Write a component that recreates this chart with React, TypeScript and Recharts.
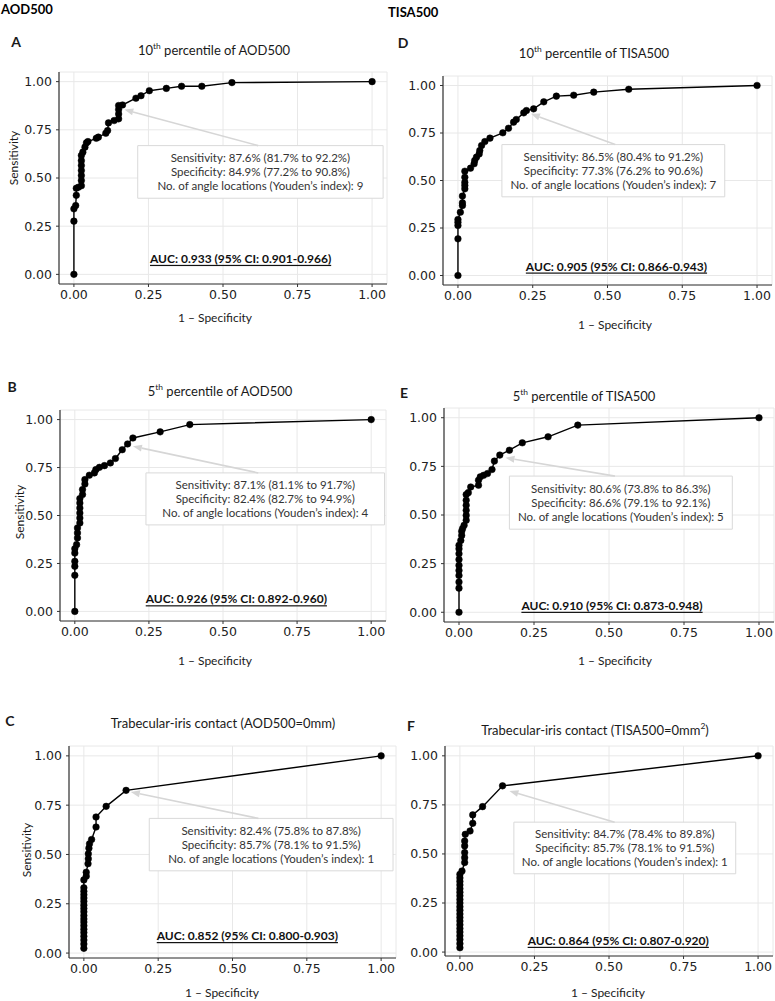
import React from 'react';
import {
  ComposedChart,
  Line,
  XAxis,
  YAxis,
  CartesianGrid,
  ReferenceArea,
  ReferenceLine,
  ReferenceDot,
} from 'recharts';

// ROC points: [1 - specificity, sensitivity]
const rocA: [number, number][] = [
  [0, 0], [0, 0.276], [0, 0.34], [0.006, 0.357], [0.008, 0.41], [0.008, 0.447], [0.015, 0.452],
  [0.025, 0.46], [0.025, 0.487], [0.025, 0.513], [0.025, 0.539], [0.025, 0.565], [0.025, 0.59],
  [0.025, 0.617], [0.03, 0.634], [0.037, 0.66], [0.042, 0.682], [0.047, 0.689], [0.075, 0.706],
  [0.082, 0.712], [0.107, 0.732], [0.113, 0.746], [0.116, 0.786], [0.135, 0.798], [0.15, 0.807],
  [0.15, 0.832], [0.15, 0.855], [0.15, 0.876], [0.163, 0.879], [0.208, 0.914], [0.225, 0.927],
  [0.253, 0.953], [0.31, 0.965], [0.361, 0.976], [0.429, 0.976], [0.53, 0.995], [1, 1],
];

const rocB: [number, number][] = [
  [0, 0], [0, 0.188], [0, 0.235], [0, 0.261], [0, 0.304], [0, 0.327], [0.006, 0.348],
  [0.009, 0.383], [0.009, 0.409], [0.009, 0.435], [0.017, 0.461], [0.017, 0.487], [0.017, 0.513],
  [0.017, 0.539], [0.017, 0.565], [0.017, 0.588], [0.026, 0.609], [0.026, 0.635], [0.034, 0.664],
  [0.034, 0.687], [0.049, 0.71], [0.066, 0.722], [0.071, 0.739], [0.083, 0.751], [0.1, 0.76],
  [0.12, 0.774], [0.137, 0.797], [0.16, 0.843], [0.178, 0.873], [0.196, 0.904], [0.288, 0.936],
  [0.388, 0.974], [1, 1],
];

const rocC: [number, number][] = [
  [0, 0.024], [0, 0.046], [0, 0.066], [0, 0.085], [0, 0.104], [0, 0.121], [0, 0.139], [0, 0.157],
  [0, 0.173], [0, 0.19], [0, 0.209], [0, 0.226], [0, 0.243], [0, 0.262], [0, 0.279], [0, 0.296],
  [0, 0.313], [0, 0.331], [0, 0.371], [0.008, 0.39], [0.008, 0.41], [0.014, 0.453], [0.015, 0.478],
  [0.015, 0.503], [0.017, 0.532], [0.019, 0.554], [0.026, 0.576], [0.041, 0.639], [0.041, 0.69],
  [0.075, 0.744], [0.142, 0.825], [1, 1],
];

const rocD: [number, number][] = [
  [0, 0], [0, 0.193], [0, 0.263], [0, 0.28], [0, 0.295], [0.008, 0.333], [0.015, 0.368],
  [0.015, 0.382], [0.015, 0.418], [0.023, 0.456], [0.023, 0.474], [0.023, 0.49], [0.023, 0.517],
  [0.023, 0.549], [0.042, 0.565], [0.054, 0.588], [0.056, 0.605], [0.062, 0.623], [0.071, 0.64],
  [0.073, 0.658], [0.079, 0.684], [0.09, 0.705], [0.107, 0.723], [0.15, 0.751], [0.169, 0.775],
  [0.186, 0.807], [0.195, 0.821], [0.22, 0.856], [0.229, 0.868], [0.253, 0.877], [0.287, 0.914],
  [0.329, 0.944], [0.387, 0.949], [0.454, 0.965], [0.571, 0.98], [1, 1],
];

const rocE: [number, number][] = [
  [0, 0], [0, 0.124], [0, 0.155], [0, 0.189], [0, 0.215], [0, 0.241], [0, 0.271], [0, 0.301],
  [0, 0.326], [0, 0.344], [0.006, 0.369], [0.009, 0.395], [0.009, 0.416], [0.012, 0.43],
  [0.017, 0.447], [0.024, 0.473], [0.024, 0.498], [0.024, 0.524], [0.024, 0.55], [0.024, 0.576],
  [0.024, 0.605], [0.031, 0.615], [0.039, 0.644], [0.065, 0.653], [0.065, 0.679], [0.071, 0.696],
  [0.082, 0.704], [0.095, 0.713], [0.11, 0.734], [0.118, 0.777], [0.136, 0.808], [0.168, 0.833],
  [0.211, 0.871], [0.297, 0.902], [0.396, 0.962], [1, 1],
];

const rocF: [number, number][] = [
  [0, 0.022], [0, 0.043], [0, 0.064], [0, 0.083], [0, 0.102], [0, 0.12], [0, 0.139], [0, 0.158],
  [0, 0.176], [0, 0.194], [0, 0.213], [0, 0.231], [0, 0.25], [0, 0.268], [0, 0.287], [0, 0.305],
  [0, 0.323], [0, 0.342], [0, 0.36], [0, 0.378], [0, 0.396], [0.007, 0.413], [0.016, 0.456],
  [0.016, 0.481], [0.016, 0.507], [0.016, 0.541], [0.016, 0.566], [0.018, 0.6], [0.034, 0.617],
  [0.043, 0.656], [0.043, 0.699], [0.076, 0.741], [0.143, 0.847], [1, 1],
];

const ticks = [0, 0.25, 0.5, 0.75, 1];

const statsA = ['Sensitivity: 87.6% (81.7% to 92.2%)', 'Specificity: 84.9% (77.2% to 90.8%)', 'No. of angle locations (Youden\u2019s index): 9'];
const statsB = ['Sensitivity: 87.1% (81.1% to 91.7%)', 'Specificity: 82.4% (82.7% to 94.9%)', 'No. of angle locations (Youden\u2019s index): 4'];
const statsC = ['Sensitivity: 82.4% (75.8% to 87.8%)', 'Specificity: 85.7% (78.1% to 91.5%)', 'No. of angle locations (Youden\u2019s index): 1'];
const statsD = ['Sensitivity: 86.5% (80.4% to 91.2%)', 'Specificity: 77.3% (76.2% to 90.6%)', 'No. of angle locations (Youden\u2019s index): 7'];
const statsE = ['Sensitivity: 80.6% (73.8% to 86.3%)', 'Specificity: 86.6% (79.1% to 92.1%)', 'No. of angle locations (Youden\u2019s index): 5'];
const statsF = ['Sensitivity: 84.7% (78.4% to 89.8%)', 'Specificity: 85.7% (78.1% to 91.5%)', 'No. of angle locations (Youden\u2019s index): 1'];

const aucA = 'AUC: 0.933 (95% CI: 0.901-0.966)';
const aucB = 'AUC: 0.926 (95% CI: 0.892-0.960)';
const aucC = 'AUC: 0.852 (95% CI: 0.800-0.903)';
const aucD = 'AUC: 0.905 (95% CI: 0.866-0.943)';
const aucE = 'AUC: 0.910 (95% CI: 0.873-0.948)';
const aucF = 'AUC: 0.864 (95% CI: 0.807-0.920)';

const TXT = "Lato, 'Open Sans', sans-serif";
const TICK_FONT = "'DejaVu Sans', Verdana, sans-serif";

type Pt = [number, number];

interface PanelProps {
  letter: string;
  letterPos: Pt;
  title: React.ReactNode;
  titlePos: Pt;
  xLabelPos: Pt;
  yLabelPos?: Pt;
  plot: { left: number; top: number; right: number; bottom: number };
  yMin: number;
  data: Pt[];
  stats: string[];
  box: { x1: number; x2: number; y1: number; y2: number };
  arrow: [Pt, Pt];
  auc: string;
  aucPos: Pt;
}

const YW = 50;
const XH = 30;

const arrowShape = (p: any) => {
  const { x1, y1, x2, y2 } = p;
  const a = Math.atan2(y2 - y1, x2 - x1);
  const len = 9;
  const half = 3.5;
  const bx = x2 - len * Math.cos(a);
  const by = y2 - len * Math.sin(a);
  const nx = -Math.sin(a) * half;
  const ny = Math.cos(a) * half;
  return (
    <g>
      <line x1={x1} y1={y1} x2={bx} y2={by} stroke="#d6d6d6" strokeWidth={1.6} />
      <polygon points={`${x2},${y2} ${bx + nx},${by + ny} ${bx - nx},${by - ny}`} fill="#d6d6d6" />
    </g>
  );
};

function Centered({ x, y, style, children }: { x: number; y: number; style?: React.CSSProperties; children: React.ReactNode }) {
  return (
    <div
      style={{
        position: 'absolute',
        left: x,
        top: y,
        transform: 'translate(-50%, -50%)',
        whiteSpace: 'nowrap',
        fontFamily: TXT,
        color: '#1a1a1a',
        lineHeight: 1,
        ...style,
      }}
    >
      {children}
    </div>
  );
}

function Panel(p: PanelProps) {
  const rows = p.data.map(([fpr, tpr]) => ({ fpr, tpr }));
  const w = p.plot.right - p.plot.left + YW + 10;
  const h = p.plot.bottom - p.plot.top + XH + 10;

  const statsLabel = (lp: any) => {
    const vb = lp.viewBox;
    if (!vb) return null;
    const cx = vb.x + vb.width / 2;
    const cy = vb.y + vb.height / 2;
    return (
      <g>
        {p.stats.map((s, i) => (
          <text
            key={i}
            x={cx}
            y={cy + (i - 1) * 14}
            textAnchor="middle"
            dominantBaseline="central"
            fontFamily={TXT}
            fontSize={11.5}
            fill="#333"
          >
            {s}
          </text>
        ))}
      </g>
    );
  };

  const aucLabel = (lp: any) => {
    const vb = lp.viewBox;
    if (!vb) return null;
    return (
      <text
        x={vb.x + vb.width / 2}
        y={vb.y + vb.height / 2}
        textAnchor="middle"
        dominantBaseline="central"
        fontFamily={TXT}
        fontSize={12}
        fontWeight={700}
        textDecoration="underline"
        fill="#111"
      >
        {p.auc}
      </text>
    );
  };

  return (
    <>
      <Centered x={p.letterPos[0]} y={p.letterPos[1]} style={{ fontWeight: 700, fontSize: 14 }}>
        {p.letter}
      </Centered>
      <Centered x={p.titlePos[0]} y={p.titlePos[1]} style={{ fontSize: 13 }}>
        {p.title}
      </Centered>
      {p.yLabelPos && (
        <Centered
          x={p.yLabelPos[0]}
          y={p.yLabelPos[1]}
          style={{ fontSize: 12, transform: 'translate(-50%, -50%) rotate(-90deg)' }}
        >
          Sensitivity
        </Centered>
      )}
      <Centered x={p.xLabelPos[0]} y={p.xLabelPos[1]} style={{ fontSize: 12 }}>
        1 – Specificity
      </Centered>
      <div style={{ position: 'absolute', left: p.plot.left - YW, top: p.plot.top - 10 }}>
        <ComposedChart width={w} height={h} data={rows} margin={{ top: 10, right: 10, left: 0, bottom: 0 }}>
          <CartesianGrid stroke="#e8e8e8" strokeWidth={1} />
          <XAxis
            dataKey="fpr"
            type="number"
            domain={[-0.05, 1.05]}
            ticks={ticks}
            interval={0}
            height={XH}
            tickFormatter={(v: number) => v.toFixed(2)}
            tick={{ fontSize: 12.5, fill: '#222', fontFamily: TICK_FONT }}
            tickSize={3}
            tickMargin={3}
            axisLine={{ stroke: '#333', strokeWidth: 1.2 }}
            tickLine={{ stroke: '#333' }}
          />
          <YAxis
            type="number"
            domain={[p.yMin, 1.05]}
            ticks={ticks}
            interval={0}
            width={YW}
            tickFormatter={(v: number) => v.toFixed(2)}
            tick={{ fontSize: 12.5, fill: '#222', fontFamily: TICK_FONT }}
            tickSize={3}
            tickMargin={4}
            axisLine={{ stroke: '#333', strokeWidth: 1.2 }}
            tickLine={{ stroke: '#333' }}
          />
          <ReferenceArea
            x1={p.box.x1}
            x2={p.box.x2}
            y1={p.box.y1}
            y2={p.box.y2}
            fill="#fff"
            fillOpacity={1}
            stroke="#d9d9d9"
            strokeWidth={1}
            ifOverflow="visible"
            label={statsLabel}
          />
          <ReferenceLine
            segment={[{ x: p.arrow[0][0], y: p.arrow[0][1] }, { x: p.arrow[1][0], y: p.arrow[1][1] }]}
            ifOverflow="visible"
            shape={arrowShape}
          />
          <ReferenceDot x={p.aucPos[0]} y={p.aucPos[1]} r={0} fill="none" stroke="none" label={aucLabel} />
          <Line
            type="linear"
            dataKey="tpr"
            stroke="#000"
            strokeWidth={1.4}
            dot={{ r: 3.3, fill: '#000', stroke: '#000', strokeWidth: 0.5 }}
            isAnimationActive={false}
          />
        </ComposedChart>
      </div>
    </>
  );
}

const sup = (s: string) => <sup style={{ fontSize: '0.65em', verticalAlign: '0.6em', lineHeight: 0 }}>{s}</sup>;

export default function App() {
  return (
    <div style={{ position: 'absolute', left: 0, top: 0, width: 775, height: 1001, background: '#fff', overflow: 'hidden' }}>
      <div style={{ position: 'absolute', left: 1, top: 2, fontFamily: TXT, fontWeight: 700, fontSize: 13, lineHeight: 1.1 }}>AOD500</div>
      <div style={{ position: 'absolute', left: 388, top: 5, fontFamily: TXT, fontWeight: 700, fontSize: 13, lineHeight: 1.1 }}>TISA500</div>

      <Panel
        letter="A"
        letterPos={[16, 42]}
        title={<>10{sup('th')} percentile of AOD500</>}
        titlePos={[214, 50]}
        yLabelPos={[14, 158]}
        xLabelPos={[215, 318]}
        plot={{ left: 59, top: 72, right: 387, bottom: 284 }}
        yMin={-0.05}
        data={rocA}
        stats={statsA}
        box={{ x1: 0.214, x2: 1.037, y1: 0.395, y2: 0.668 }}
        arrow={[[0.618, 0.668], [0.169, 0.855]]}
        auc={aucA}
        aucPos={[0.559, 0.083]}
      />
      <Panel
        letter="D"
        letterPos={[403, 43]}
        title={<>10{sup('th')} percentile of TISA500</>}
        titlePos={[594, 53]}
        xLabelPos={[615, 325]}
        plot={{ left: 443, top: 76, right: 772, bottom: 285 }}
        yMin={-0.05}
        data={rocD}
        stats={statsD}
        box={{ x1: 0.147, x2: 0.892, y1: 0.414, y2: 0.689 }}
        arrow={[[0.526, 0.689], [0.244, 0.851]]}
        auc={aucD}
        aucPos={[0.53, 0.05]}
      />
      <Panel
        letter="B"
        letterPos={[12, 387]}
        title={<>5{sup('th')} percentile of AOD500</>}
        titlePos={[220, 391]}
        yLabelPos={[20, 512]}
        xLabelPos={[215, 661]}
        plot={{ left: 60, top: 410, right: 386, bottom: 621 }}
        yMin={-0.05}
        data={rocB}
        stats={statsB}
        box={{ x1: 0.24, x2: 1.045, y1: 0.451, y2: 0.722 }}
        arrow={[[0.619, 0.722], [0.196, 0.861]]}
        auc={aucB}
        aucPos={[0.545, 0.066]}
      />
      <Panel
        letter="E"
        letterPos={[404, 393]}
        title={<>5{sup('th')} percentile of TISA500</>}
        titlePos={[584, 396]}
        xLabelPos={[615, 661]}
        plot={{ left: 444, top: 408, right: 774, bottom: 622 }}
        yMin={-0.05}
        data={rocE}
        stats={statsE}
        box={{ x1: 0.168, x2: 0.911, y1: 0.427, y2: 0.7 }}
        arrow={[[0.52, 0.7], [0.155, 0.794]]}
        auc={aucE}
        aucPos={[0.51, 0.036]}
      />
      <Panel
        letter="C"
        letterPos={[10, 721]}
        title="Trabecular-iris contact (AOD500=0mm)"
        titlePos={[223, 723]}
        yLabelPos={[27, 850]}
        xLabelPos={[222, 993]}
        plot={{ left: 69, top: 746, right: 396, bottom: 958 }}
        yMin={-0.025}
        data={rocC}
        stats={statsC}
        box={{ x1: 0.22, x2: 1.04, y1: 0.417, y2: 0.683 }}
        arrow={[[0.587, 0.683], [0.158, 0.817]]}
        auc={aucC}
        aucPos={[0.55, 0.089]}
      />
      <Panel
        letter="F"
        letterPos={[411, 726]}
        title={<>Trabecular-iris contact (TISA500=0mm{sup('2')})</>}
        titlePos={[595, 730]}
        xLabelPos={[608, 993]}
        plot={{ left: 445, top: 746, right: 773, bottom: 956 }}
        yMin={-0.02}
        data={rocF}
        stats={statsF}
        box={{ x1: 0.181, x2: 0.925, y1: 0.399, y2: 0.662 }}
        arrow={[[0.519, 0.662], [0.166, 0.821]]}
        auc={aucF}
        aucPos={[0.531, 0.06]}
      />
    </div>
  );
}
